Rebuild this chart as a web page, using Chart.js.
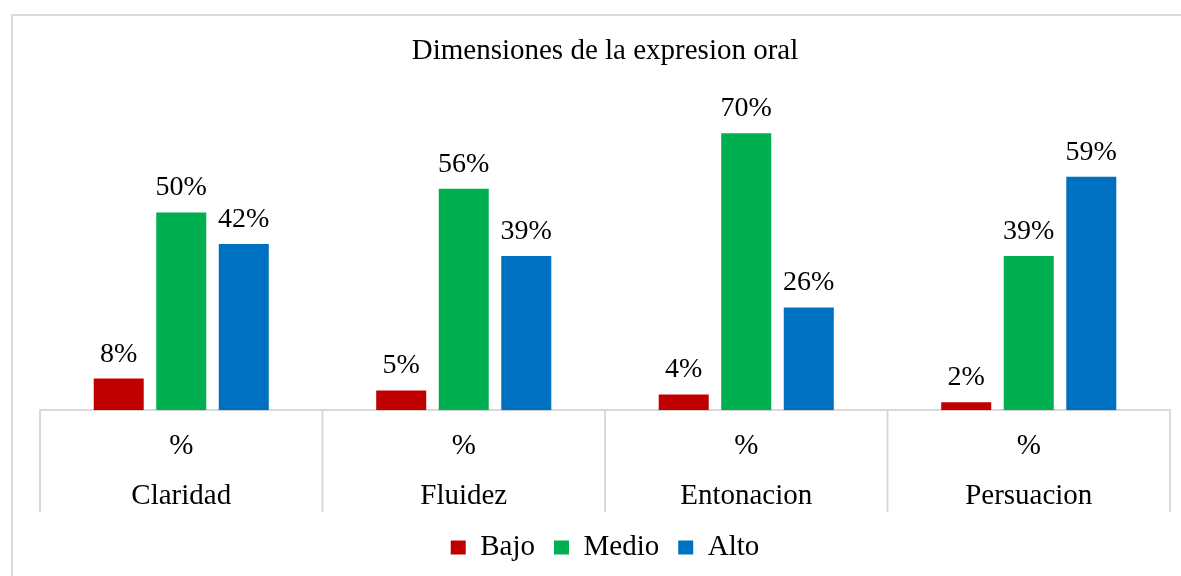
<!DOCTYPE html>
<html>
<head>
<meta charset="utf-8">
<script src="https://cdn.jsdelivr.net/npm/chart.js@4"></script>
<style>
  html, body { margin: 0; padding: 0; background: #fff; }
  #wrap { position: relative; width: 1181px; height: 576px; }
</style>
</head>
<body>
<div id="wrap"><canvas id="chart"></canvas></div>
<script>
const categories = ['Claridad', 'Fluidez', 'Entonacion', 'Persuacion'];
const subLabel = '%';
const bajo = [8, 5, 4, 2];
const medio = [50, 56, 70, 39];
const alto = [42, 39, 26, 59];

const serif = '"Liberation Serif", "Times New Roman", serif';
const frameColor = '#d9d9d9';

// frame round the chart and the divider lines under the axis
const framePlugin = {
    id: 'frame',
    beforeDraw(chart) {
        const c = chart.ctx;
        c.save();
        c.strokeStyle = frameColor;
        c.lineWidth = 2;
        c.beginPath();
        c.moveTo(12, chart.height);
        c.lineTo(12, 15);
        c.lineTo(chart.width, 15);
        c.stroke();
        c.restore();
    },
    afterDraw(chart) {
        const x = chart.scales.x;
        const c = chart.ctx;
        const bottom = chart.chartArea.bottom;
        const step = x.width / categories.length;
        c.save();
        c.strokeStyle = frameColor;
        c.lineWidth = 2;
        for (let i = 0; i <= categories.length; i++) {
            const px = x.left + i * step;
            c.beginPath();
            c.moveTo(px, bottom);
            c.lineTo(px, bottom + 102);
            c.stroke();
        }
        c.restore();
    }
};

// value labels on top of every bar
const valueLabels = {
    id: 'valueLabels',
    afterDatasetsDraw(chart) {
        const c = chart.ctx;
        c.save();
        c.font = '28px ' + serif;
        c.fillStyle = '#000';
        c.textAlign = 'center';
        c.textBaseline = 'alphabetic';
        chart.data.datasets.forEach((ds, di) => {
            chart.getDatasetMeta(di).data.forEach((bar, i) => {
                c.fillText(ds.data[i] + '%', bar.x, bar.y - 17);
            });
        });
        c.restore();
    }
};

new Chart(document.getElementById('chart'), {
    type: 'bar',
    data: {
        labels: categories.map(c => [subLabel, c]),
        datasets: [
            { label: 'Bajo', data: bajo, backgroundColor: '#C00000' },
            { label: 'Medio', data: medio, backgroundColor: '#00B050' },
            { label: 'Alto', data: alto, backgroundColor: '#0070C0' }
        ]
    },
    options: {
        responsive: true,
        maintainAspectRatio: false,
        animation: false,
        categoryPercentage: 0.664,
        barPercentage: 0.8,
        layout: {
            padding: { left: 40, right: 11, top: 34, bottom: 4 }
        },
        scales: {
            y: {
                display: false,
                min: 0,
                max: 80
            },
            x: {
                grid: { display: false, drawTicks: false },
                border: { display: true, color: frameColor, width: 2 },
                ticks: {
                    color: '#000',
                    padding: 11,
                    font: { family: serif, size: 29, lineHeight: 1.72 }
                },
                // let the labels run into the legend's empty top padding
                afterFit: (scale) => { scale.height -= 18; }
            }
        },
        plugins: {
            title: {
                display: true,
                text: 'Dimensiones de la expresion oral',
                color: '#000',
                font: { family: serif, size: 29, weight: 'normal' },
                padding: { top: 0, bottom: 25 }
            },
            legend: {
                position: 'bottom',
                labels: {
                    color: '#000',
                    boxWidth: 15,
                    boxHeight: 14,
                    padding: 19,
                    font: { family: serif, size: 29 }
                }
            },
            tooltip: { enabled: false }
        }
    },
    plugins: [framePlugin, valueLabels]
});
</script>
</body>
</html>
